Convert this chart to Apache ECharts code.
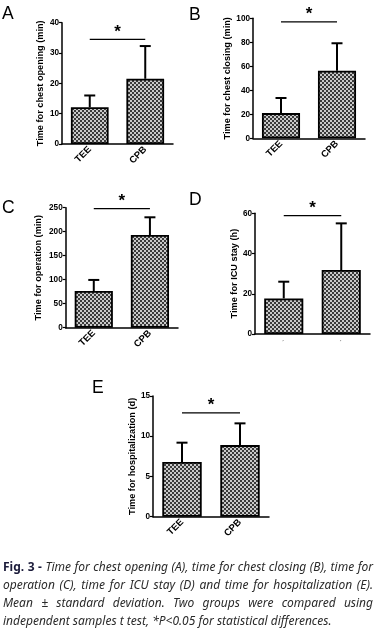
<!DOCTYPE html>
<html><head><meta charset="utf-8">
<script src="https://cdn.jsdelivr.net/npm/echarts@6/dist/echarts.min.js"></script>
<style>html,body{margin:0;padding:0;background:#fff}#c{width:375px;height:634px}</style>
</head><body><div id="c"></div>
<script>
// ---- data ----
const categories = ['TEE', 'CPB'];
const openMean = [12.1, 21.5];
const openSD = [3.9, 10.8];
const closeMean = [21.0, 56.3];
const closeSD = [12.6, 22.9];
const opMean = [76.5, 193];
const opSD = [23, 37];
const icuMean = [17.7, 31.8];
const icuSD = [8.3, 23.2];
const hospMean = [6.8, 8.9];
const hospSD = [2.4, 2.7];
const sigLevel = [34.5, 97, 248, 58.8, 12.9];
const panelLetters = ['A', 'B', 'C', 'D', 'E'];
const axisNames = ['Time for chest opening (min)', 'Time for chest closing (min)', 'Time for operation (min)', 'Time for ICU stay (h)', 'Time for hospitalization (d)'];
const yMax = [40, 100, 250, 60, 15];
const yStep = [10, 20, 50, 20, 5];
const captionLines = [
  'Time for chest opening (A), time for chest closing (B), time for',
  'operation (C), time for ICU stay (D) and time for hospitalization (E).',
  'Mean ± standard deviation. Two groups were compared using',
  'independent samples t test, *P<0.05 for statistical differences.'
];

const means = [openMean, closeMean, opMean, icuMean, hospMean];
const sds = [openSD, closeSD, opSD, icuSD, hospSD];

// ---- layout ----
const grids = [
  {left: 62, top: 22.7, width: 111, height: 121.3},
  {left: 253, top: 18.3, width: 112, height: 120},
  {left: 65.7, top: 207.7, width: 112.3, height: 120},
  {left: 255, top: 213.3, width: 115, height: 120.7},
  {left: 153, top: 396, width: 116, height: 120.7}
];
const nameGaps = [17, 21, 23, 15, 15];
const letterPos = [[2, 5], [189, 6], [2, 199], [189, 191], [92, 379]];

// checker pattern for bars
const pc = document.createElement('canvas');
pc.width = 4; pc.height = 4;
const pctx = pc.getContext('2d');
pctx.fillStyle = '#c9c9c9'; pctx.fillRect(0, 0, 4, 4);
pctx.fillStyle = '#3a3a3a'; pctx.fillRect(0, 0, 2, 2); pctx.fillRect(2, 2, 2, 2);

const FONT = '"Liberation Sans", Arial, sans-serif';
const xAxes = [], yAxes = [], series = [], gridOpts = [], graphics = [];

for (let i = 0; i < 5; i++) {
  gridOpts.push(Object.assign({containLabel: false}, grids[i]));
  xAxes.push({
    type: 'category', gridIndex: i, data: categories,
    axisLine: {lineStyle: {color: '#000', width: 1.5}},
    axisTick: {alignWithLabel: true, length: 3, lineStyle: {color: '#000', width: 1.2}},
    axisLabel: i === 3 ? {interval: 0, rotate: 45, margin: 6, fontSize: 6, color: '#444', formatter: () => '-'} :
      {interval: 0, rotate: 45, margin: 4, fontSize: 9.5, fontWeight: 'bold', color: '#000', fontFamily: FONT}
  });
  yAxes.push({
    type: 'value', gridIndex: i, min: 0, max: yMax[i], interval: yStep[i],
    name: axisNames[i], nameLocation: 'middle', nameGap: nameGaps[i], nameRotate: 90,
    nameTextStyle: {fontSize: 9.2, fontWeight: 'bold', color: '#000', fontFamily: FONT},
    splitLine: {show: false},
    axisLine: {show: true, lineStyle: {color: '#000', width: 1.5}},
    axisTick: {show: true, length: 3, lineStyle: {color: '#000', width: 1.2}},
    axisLabel: {fontSize: 8.2, fontWeight: 'bold', color: '#000', margin: 3, fontFamily: FONT}
  });
  series.push({
    type: 'bar', xAxisIndex: i, yAxisIndex: i, barWidth: '68%',
    data: means[i],
    itemStyle: {color: {image: pc, repeat: 'repeat'}, borderColor: '#000', borderWidth: 1.8},
    silent: true, animation: false
  });
  series.push({
    type: 'custom', xAxisIndex: i, yAxisIndex: i, animation: false, silent: true,
    data: means[i].map((m, k) => [k, m, sds[i][k]]),
    renderItem: (params, api) => {
      const k = api.value(0), m = api.value(1), s = api.value(2);
      const p0 = api.coord([k, m]), p1 = api.coord([k, m + s]);
      const st = {stroke: '#000', lineWidth: 2};
      return {type: 'group', children: [
        {type: 'line', shape: {x1: p0[0], y1: p0[1], x2: p1[0], y2: p1[1]}, style: st},
        {type: 'line', shape: {x1: p1[0] - 5.5, y1: p1[1], x2: p1[0] + 5.5, y2: p1[1]}, style: st}
      ]};
    }
  });
  series.push({
    type: 'custom', xAxisIndex: i, yAxisIndex: i, animation: false, silent: true,
    data: [[0, 1, sigLevel[i]]],
    renderItem: (params, api) => {
      const a = api.coord([api.value(0), api.value(2)]);
      const b = api.coord([api.value(1), api.value(2)]);
      return {type: 'group', children: [
        {type: 'line', shape: {x1: a[0], y1: a[1], x2: b[0], y2: b[1]}, style: {stroke: '#000', lineWidth: 1.3}},
        {type: 'text', x: (a[0] + b[0]) / 2, y: a[1] + 1, style: {text: '*', fontSize: 17, fontWeight: 'bold', fill: '#000', align: 'center', verticalAlign: 'bottom', fontFamily: FONT}}
      ]};
    }
  });
  graphics.push({type: 'text', left: letterPos[i][0], top: letterPos[i][1],
    style: {text: panelLetters[i], fontSize: 17.5, fill: '#000', fontFamily: FONT}});
}

// ---- caption (justified) ----
const CAP_FONT_FAMILY = '"Noto Sans", sans-serif';
const capSize = 12;
const italicFont = 'italic ' + capSize + 'px ' + CAP_FONT_FAMILY;
const boldFont = 'bold ' + capSize + 'px ' + CAP_FONT_FAMILY;
const mc = document.createElement('canvas').getContext('2d');
function measure(t, f) { mc.font = f; return mc.measureText(t).width; }
const capX0 = 3, capX1 = 373;
const lineY = [568, 586, 604, 622];
captionLines.forEach((line, li) => {
  const words = [];
  if (li === 0) words.push({t: 'Fig.', f: boldFont, w: 'bold', s: 'normal', c: '#1b1b3a'}, {t: '3', f: boldFont, w: 'bold', s: 'normal', c: '#1b1b3a'}, {t: '-', f: boldFont, w: 'bold', s: 'normal', c: '#1b1b3a'});
  line.split(' ').forEach(t => words.push({t, f: italicFont, w: 'normal', s: 'italic', c: '#2a2a2a'}));
  const widths = words.map(o => measure(o.t, o.f));
  const total = widths.reduce((a, b) => a + b, 0);
  const last = li === captionLines.length - 1;
  const gap = last ? measure(' ', italicFont) : (capX1 - capX0 - total) / (words.length - 1);
  let x = capX0;
  words.forEach((o, k) => {
    graphics.push({type: 'text', x: x, y: lineY[li], silent: true,
      style: {text: o.t, fontSize: capSize, fontWeight: o.w, fontStyle: o.s, fill: o.c, fontFamily: CAP_FONT_FAMILY, verticalAlign: 'middle', align: 'left'}});
    x += widths[k] + gap;
  });
});

const chart = echarts.init(document.getElementById('c'), null, {renderer: 'canvas'});
chart.setOption({
  animation: false,
  backgroundColor: '#fff',
  grid: gridOpts, xAxis: xAxes, yAxis: yAxes, series: series, graphic: graphics
});
</script></body></html>
